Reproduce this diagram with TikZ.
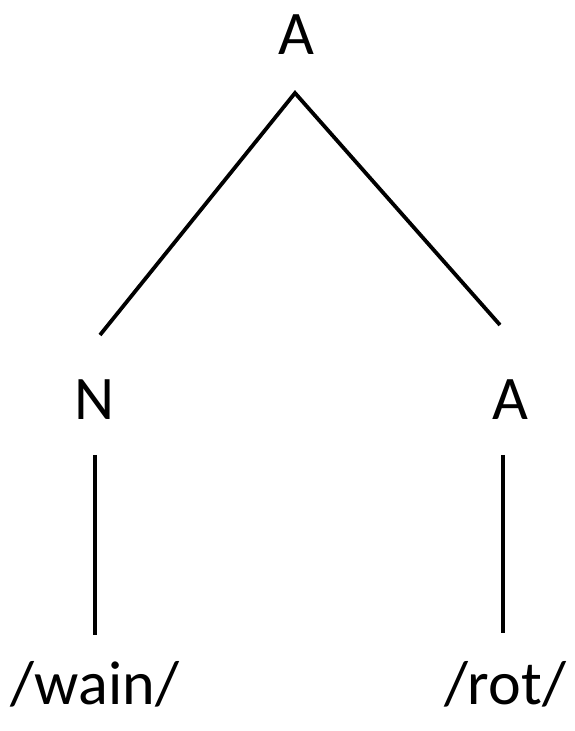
\documentclass[tikz,border=0pt]{standalone}
\usepackage{fontspec}
\setmainfont{Carlito}
\usepackage{tikz}

\begin{document}
\begin{tikzpicture}[
  x=1pt, y=1pt,
  font=\fontsize{62}{66}\selectfont,
  cat/.style={inner sep=0pt, anchor=base},
  branch/.style={line width=3.8pt, line join=miter}
]
  \useasboundingbox (0,0) rectangle (575,731);

  \node[cat] (root) at (296,676) {A};
  \node[cat] (noun) at (95,311) {N};
  \node[cat] (adj) at (510,311) {A};
  \node[cat] (wain) at (95,26) {/wain/};
  \node[cat] (rot) at (505,26) {/rot/};

  \coordinate (apex) at (295,638);
  \coordinate (nounup) at (100,396);
  \coordinate (adjup) at (500,406);
  \coordinate (nountop) at (95,276);
  \coordinate (nounbot) at (95,96);
  \coordinate (adjtop) at (503,276);
  \coordinate (adjbot) at (503,98);

  \draw[branch] (nounup) -- (apex) -- (adjup);
  \draw[branch] (nountop) -- (nounbot);
  \draw[branch] (adjtop) -- (adjbot);
\end{tikzpicture}
\end{document}
